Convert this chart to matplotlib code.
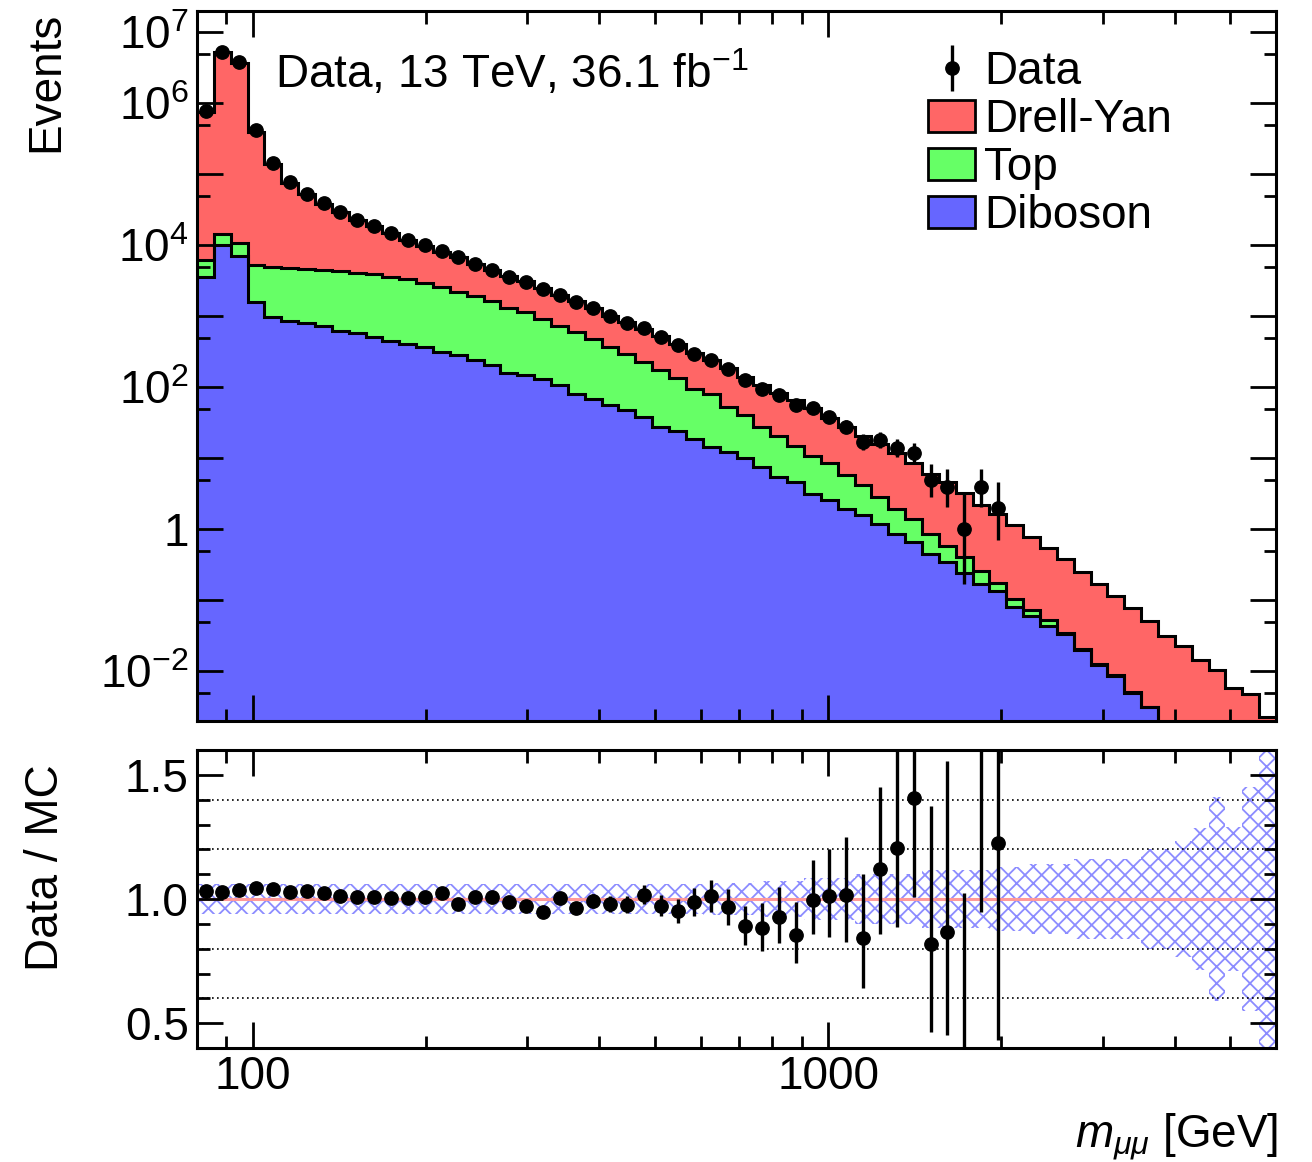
import numpy as np
import matplotlib
matplotlib.use("Agg")
import matplotlib.pyplot as plt
from matplotlib.patches import Patch
from matplotlib.ticker import FixedLocator, FuncFormatter, NullFormatter, LogLocator, MultipleLocator

plt.rcParams["font.family"] = ["Liberation Sans", "DejaVu Sans"]
plt.rcParams["mathtext.fontset"] = "custom"
plt.rcParams["mathtext.rm"] = "Liberation Sans"
plt.rcParams["mathtext.it"] = "Liberation Sans:italic"
plt.rcParams["mathtext.bf"] = "Liberation Sans:bold"
plt.rcParams["hatch.linewidth"] = 1.3

FS = 33

# 64 bins of constant width in log(m), 80 GeV - 6 TeV
m_low, m_high, n_bins = 80.0, 6000.0, 64
edges = np.logspace(np.log10(m_low), np.log10(m_high), n_bins + 1)
centers = 0.5 * (edges[:-1] + edges[1:])

# Observed events per bin (bins with zero events are not listed)
data_counts = [776000, 5370000, 3800000, 417000, 145000, 77600, 53700, 38900, 29500, 22900,
               18600, 14800, 12000, 10000, 8320, 6760, 5500, 4570, 3630, 3020,
               2400, 1995, 1585, 1318, 1000, 813, 676, 513, 389, 299,
               245, 182, 126, 95, 78, 56, 51, 38, 28, 17,
               18, 14, 12, 5, 4, 1, 4, 2]

# Data / total MC in each bin with data
ratio_data_mc = [1.033, 1.027, 1.037, 1.044, 1.040, 1.029, 1.031, 1.024, 1.013, 1.009,
                 1.007, 1.003, 1.003, 1.007, 1.023, 0.980, 1.007, 1.009, 0.987, 0.973,
                 0.947, 1.003, 0.963, 0.993, 0.980, 0.976, 1.017, 0.973, 0.951, 0.987,
                 1.013, 0.967, 0.893, 0.883, 0.929, 0.857, 0.997, 1.011, 1.017, 0.843,
                 1.12, 1.207, 1.407, 0.82, 0.869, 0.31, 1.82, 1.224]

# Expected yields per process
drell_yan = [745000, 5210000, 3650000, 394000, 134000, 70700, 47400, 33400, 24700, 18600,
             14600, 11200, 8680, 6946, 5558, 4689, 3508, 2869, 2376, 1970,
             1602, 1257, 1042, 848, 645, 537, 436, 353, 273, 207,
             163, 136, 100, 81, 62.7, 50.5, 40.4, 29.1, 22.0, 16.4,
             13.0, 10.0, 7.14, 5.2, 4.0, 2.8, 1.94, 1.46, 1.03, 0.706,
             0.498, 0.352, 0.23, 0.156, 0.1065, 0.074, 0.0475, 0.030, 0.0216, 0.0137,
             0.0102, 0.0056, 0.00465, 0.0022]

top = [2762, 4290, 3715, 3663, 3921, 3915, 3883, 3847, 3734, 3499,
       3377, 3101, 2904, 2613, 2254, 1931, 1710, 1451, 1145, 987,
       801, 626, 522, 410, 320, 247, 191, 146, 112, 77,
       65, 40, 30.7, 19.9, 15.4, 10.4, 7.8, 5.9, 3.8, 2.6,
       1.68, 1.08, 0.75, 0.414, 0.242, 0.167, 0.085, 0.040, 0.0255, 0.0144,
       0.0092, 0.0012, 0.0008, 0.0005, 0.0003, 0.0002, 0.0001, 0.00005, 0.00003, 0.00002,
       0.00001, 0.00001, 0.00001, 0.00001]

diboson = [3548, 10000, 7000, 1585, 977, 871, 794, 724, 631, 575,
           513, 447, 407, 372, 316, 282, 240, 209, 158, 148,
           132, 107, 81.3, 69.2, 56.2, 47.9, 38.0, 27.5, 24.5, 18.6,
           14.5, 12.3, 10.0, 7.59, 5.50, 4.68, 3.16, 2.57, 1.95, 1.58,
           1.20, 0.871, 0.661, 0.457, 0.347, 0.240, 0.172, 0.135, 0.0805, 0.0596,
           0.043, 0.0339, 0.0198, 0.0122, 0.0085, 0.0049, 0.0031, 0.0016, 0.0009, 0.0006,
           0.0004, 0.0002, 0.00015, 0.0001]

# Relative uncertainty on the total MC prediction
mc_rel_unc = [0.06, 0.06, 0.06, 0.06, 0.06, 0.06, 0.06, 0.06, 0.06, 0.06,
              0.06, 0.06, 0.06, 0.06, 0.06, 0.06, 0.06, 0.06, 0.06, 0.06,
              0.062, 0.062, 0.062, 0.062, 0.062, 0.062, 0.062, 0.062, 0.062, 0.062,
              0.066, 0.066, 0.066, 0.073, 0.073, 0.073, 0.085, 0.085, 0.085, 0.10,
              0.10, 0.10, 0.10, 0.115, 0.115, 0.115, 0.115, 0.127, 0.127, 0.14,
              0.14, 0.14, 0.163, 0.163, 0.163, 0.163, 0.20, 0.20, 0.235, 0.285,
              0.41, 0.29, 0.45, 0.60]

c_dy, c_top, c_db = "#ff6666", "#66ff66", "#6666ff"
c_band, c_unity = "#8c8cff", "#ff9999"


def poisson_cdf(k, mu):
    term = np.exp(-mu)
    total = term
    for i in range(1, k + 1):
        term *= mu / i
        total += term
    return total


def garwood(n, cl=0.682689):
    """Central Poisson interval (down, up) for n observed events."""
    if n > 100:
        s = np.sqrt(n)
        return s, s
    a = (1.0 - cl) / 2.0
    lo, hi = float(n), n + 10.0 * np.sqrt(n + 1.0) + 10.0
    for _ in range(80):
        mid = 0.5 * (lo + hi)
        if poisson_cdf(n, mid) > a:
            lo = mid
        else:
            hi = mid
    up = 0.5 * (lo + hi)
    if n == 0:
        down = 0.0
    else:
        lo, hi = 0.0, float(n)
        for _ in range(80):
            mid = 0.5 * (lo + hi)
            if poisson_cdf(n - 1, mid) > 1.0 - a:
                lo = mid
            else:
                hi = mid
        down = 0.5 * (lo + hi)
    return n - down, up - n


W, H = 1312, 1162
fig = plt.figure(figsize=(W / 100, H / 100), dpi=100)


def px_box(left, t, right, b):
    return [left / W, 1 - b / H, (right - left) / W, (b - t) / H]


ax = fig.add_axes(px_box(197, 11, 1276, 721))
rax = fig.add_axes(px_box(197, 750, 1276, 1048))

# ---- stacked backgrounds ----
db = np.array(diboson, float)
tp = np.array(top, float)
dy = np.array(drell_yan, float)
cum_db = db
cum_tp = cum_db + tp
cum_all = cum_tp + dy

ax.stairs(cum_all, edges, baseline=cum_tp, fill=True, color=c_dy, lw=0, zorder=1)
ax.stairs(cum_tp, edges, baseline=cum_db, fill=True, color=c_top, lw=0, zorder=1)
ax.stairs(cum_db, edges, baseline=1e-7, fill=True, color=c_db, lw=0, zorder=1)
for level in (cum_all, cum_tp, cum_db):
    ax.stairs(level, edges, baseline=None, color="black", lw=2.2, zorder=1.5)

# ---- data ----
n_obs = np.array(data_counts, float)
n_data = len(n_obs)
err = np.array([garwood(int(k)) for k in data_counts])
h_data = ax.errorbar(centers[:n_data], n_obs, yerr=err.T, fmt="o", color="black",
                     ms=9.6, elinewidth=2.4, capsize=0, zorder=3)

ax.set_xscale("log")
ax.set_yscale("log")
ax.set_xlim(m_low, m_high)
ax.set_ylim(2e-3, 2e7)

labelled = {1e7: "10$^{7}$", 1e6: "10$^{6}$", 1e4: "10$^{4}$", 1e2: "10$^{2}$",
            1.0: "1", 1e-2: "10$^{-2}$"}


def y_label(v, pos):
    for key, txt in labelled.items():
        if np.isclose(v, key, rtol=1e-6):
            return txt
    return ""


ax.yaxis.set_major_locator(FixedLocator(10.0 ** np.arange(-2, 8)))
ax.yaxis.set_major_formatter(FuncFormatter(y_label))
ax.yaxis.set_minor_locator(FixedLocator(5 * 10.0 ** np.arange(-3, 7)))
ax.yaxis.set_minor_formatter(NullFormatter())

# ---- ratio panel ----
r = np.array(ratio_data_mc)
r_err = r[:, None] * err / n_obs[:, None]
unc = np.array(mc_rel_unc)
band_lo = np.append(1 - unc, 1 - unc[-1])
band_hi = np.append(1 + unc, 1 + unc[-1])
rax.fill_between(edges, band_lo, band_hi, step="post", facecolor="none",
                 edgecolor=c_band, hatch="xx", linewidth=0, zorder=1)
for yv in (0.6, 0.8, 1.2, 1.4):
    rax.axhline(yv, color="black", lw=1.2, ls=(0, (1, 2)), zorder=1.2)
rax.axhline(1.0, color=c_unity, lw=2.2, zorder=1.5)
rax.errorbar(centers[:n_data], r, yerr=r_err.T, fmt="o", color="black",
             ms=9.6, elinewidth=2.4, capsize=0, zorder=3)
rax.set_xscale("log")
rax.set_xlim(m_low, m_high)
rax.set_ylim(0.4, 1.6)
rax.yaxis.set_major_locator(FixedLocator([0.5, 1.0, 1.5]))
rax.yaxis.set_major_formatter(FuncFormatter(lambda v, p: f"{v:.1f}"))
rax.yaxis.set_minor_locator(MultipleLocator(0.1))

for a in (ax, rax):
    a.xaxis.set_major_locator(FixedLocator([100, 1000]))
    a.xaxis.set_minor_locator(LogLocator(base=10, subs=np.arange(2, 10), numticks=20))
    a.xaxis.set_minor_formatter(NullFormatter())
    a.tick_params(which="both", direction="in", top=True, right=True, width=2.0,
                  labelsize=FS)
    a.tick_params(which="major", length=19)
    a.tick_params(which="minor", length=9)
    a.tick_params(axis="y", pad=6)
    for s in a.spines.values():
        s.set_linewidth(2.2)

ax.xaxis.set_major_formatter(NullFormatter())
rax.xaxis.set_major_formatter(FuncFormatter(lambda v, p: f"{v:.0f}"))
rax.tick_params(axis="x", pad=5)

# ---- legend and labels ----
handles = [h_data,
           Patch(facecolor=c_dy, edgecolor="black", lw=2),
           Patch(facecolor=c_top, edgecolor="black", lw=2),
           Patch(facecolor=c_db, edgecolor="black", lw=2)]
ax.legend(handles, ["Data", "Drell-Yan", "Top", "Diboson"], loc="upper left",
          bbox_to_anchor=(928 / W, 1 - 50 / H), bbox_transform=fig.transFigure,
          frameon=False, fontsize=FS, handlelength=1.03, handleheight=0.7,
          handletextpad=0.2, labelspacing=0.085, borderpad=0, borderaxespad=0)

fig.text(275 / W, 1 - 88 / H, "Data, 13 TeV, 36.1 fb$^{-1}$", fontsize=FS, va="baseline")
fig.text(46 / W, 1 - 12 / H, "Events", rotation=90, ha="center", va="top", fontsize=FS)
fig.text(46 / W, 1 - 868 / H, "Data / MC", rotation=90, ha="center", va="center", fontsize=FS)
fig.text(1278 / W, 1 - 1147 / H, r"$m_{\mu\mu}$ [GeV]", ha="right", va="baseline", fontsize=FS)

fig.savefig("out.png", dpi=100)
